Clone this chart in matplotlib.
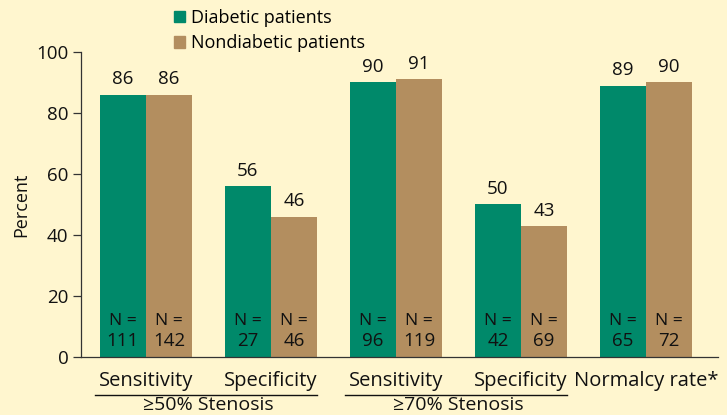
import matplotlib

matplotlib.use("Agg")
import matplotlib.pyplot as plt
import matplotlib.transforms as mtransforms
from matplotlib.patches import Patch
import numpy as np

plt.rcParams["font.family"] = ["Open Sans", "DejaVu Sans"]

CATEGORIES = ["Sensitivity", "Specificity", "Sensitivity", "Specificity", "Normalcy rate*"]
DIABETIC = [86, 56, 90, 50, 89]
NONDIABETIC = [86, 46, 91, 43, 90]
DIABETIC_N = [111, 27, 96, 42, 65]
NONDIABETIC_N = [142, 46, 119, 69, 72]
GROUPS = ["\u226550% Stenosis", "\u226570% Stenosis"]
GROUP_SPANS = [(0, 1), (2, 3)]
YTICKS = [0, 20, 40, 60, 80, 100]

GREEN = "#00896a"
TAN = "#b38e5f"
BG = "#fff6cf"
TEXT = "#111111"

W, H = 727, 415
fig = plt.figure(figsize=(W / 100, H / 100), dpi=100, facecolor=BG)
ax = fig.add_axes([81 / W, (H - 357) / H, (718 - 81) / W, (357 - 52) / H])
ax.set_facecolor(BG)

x = np.arange(len(CATEGORIES))
width = 0.37
ax.bar(x - width / 2, DIABETIC, width, color=GREEN, zorder=2)
ax.bar(x + width / 2, NONDIABETIC, width, color=TAN, zorder=2)

for xi, d, nd, dn, ndn in zip(x, DIABETIC, NONDIABETIC, DIABETIC_N, NONDIABETIC_N):
    for xx, v, n in ((xi - width / 2, d, dn), (xi + width / 2, nd, ndn)):
        ax.annotate(str(v), (xx, v), xytext=(0, 4.5), textcoords="offset points",
                    ha="center", va="bottom", fontsize=13.5, color=TEXT)
        ax.text(xx, 11.8, "N =", ha="center", va="center", fontsize=12.5, color=TEXT, zorder=3)
        ax.text(xx, 5.3, str(n), ha="center", va="center", fontsize=13.5, color=TEXT, zorder=3)

ax.set_xlim(-0.52, 4.576)
ax.set_ylim(0, 100)
ax.set_yticks(YTICKS)
ax.tick_params(axis="y", direction="out", length=6, width=0.9, labelsize=13.5,
               colors="#333333", labelcolor=TEXT, pad=3)
ax.set_xticks(x, CATEGORIES)
ax.tick_params(axis="x", length=0, labelsize=14.5, labelcolor=TEXT, pad=10)
ax.set_ylabel("Percent", fontsize=13, color=TEXT, labelpad=4)

for side in ("top", "right"):
    ax.spines[side].set_visible(False)
for side in ("left", "bottom"):
    ax.spines[side].set_color("#333333")
    ax.spines[side].set_linewidth(0.9)

# group brackets under the tick labels
trans = mtransforms.blended_transform_factory(ax.transData, ax.transAxes)
for label, (a, b) in zip(GROUPS, GROUP_SPANS):
    ax.plot([a - 0.41, b + 0.37], [-0.126, -0.126], transform=trans, color=TEXT,
            linewidth=1.0, clip_on=False)
    ax.text((a + b) / 2, -0.159, label, transform=trans, ha="center", va="center",
            fontsize=14, color=TEXT)

handles = [Patch(color=GREEN, label="Diabetic patients"),
           Patch(color=TAN, label="Nondiabetic patients")]
fig.legend(handles=handles, loc="upper left", bbox_to_anchor=(174 / W, 1 - 9 / H),
           frameon=False, fontsize=13, handlelength=0.62, handleheight=0.62,
           handletextpad=0.3, labelspacing=0.4, borderaxespad=0, borderpad=0)

fig.savefig("out.png", dpi=100, facecolor=BG)
